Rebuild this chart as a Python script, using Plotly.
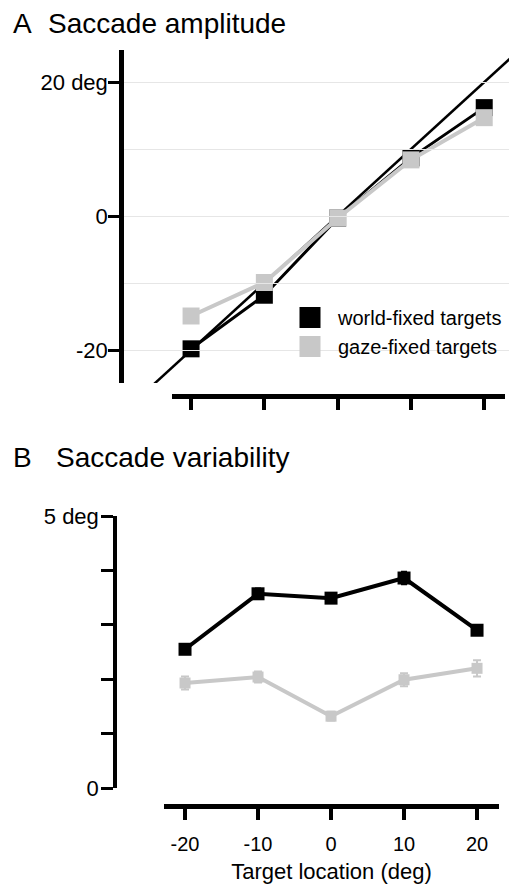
import plotly.graph_objects as go

W, H = 509, 884
def px(x): return x / W
def py(y): return 1 - y / H

# ---- data ----
target_locations = [-20, -10, 0, 10, 20]
identity_x = [-26, 24]
amp_world = [-19.8, -11.8, -0.3, 8.7, 16.2]
amp_gaze = [-14.9, -9.9, -0.3, 8.4, 14.7]
var_world = [2.55, 3.57, 3.49, 3.86, 2.9]
var_world_err = [0.06, 0.1, 0.06, 0.12, 0.06]
var_gaze = [1.93, 2.04, 1.32, 1.99, 2.2]
var_gaze_err = [0.12, 0.1, 0.08, 0.12, 0.15]
series_names = ["world-fixed targets", "gaze-fixed targets"]
amp_tick_vals = [-20, 0, 20]
amp_tick_text = ["-20", "0", "20 deg"]
amp_grid_vals = [-20, -10, 0, 10, 20]
var_tick_vals = [0, 1, 2, 3, 4, 5]
var_tick_text = ["0", "", "", "", "", "5 deg"]
x_tick_text = ["-20", "-10", "0", "10", "20"]

BLACK = "#000000"
GRAY = "#c8c8c8"
FONT = "Liberation Sans, Arial, Helvetica, sans-serif"

fig = go.Figure()

# --- panel A ---
fig.add_trace(go.Scatter(x=identity_x, y=identity_x, mode="lines",
                         line=dict(color=BLACK, width=2.5), xaxis="x", yaxis="y",
                         showlegend=False, hoverinfo="skip"))
fig.add_trace(go.Scatter(x=target_locations, y=amp_world, mode="lines+markers",
                         line=dict(color=BLACK, width=3),
                         marker=dict(symbol="square", size=17, color=BLACK),
                         xaxis="x", yaxis="y", showlegend=False))
fig.add_trace(go.Scatter(x=target_locations, y=amp_gaze, mode="lines+markers",
                         line=dict(color=GRAY, width=4),
                         marker=dict(symbol="square", size=17, color=GRAY),
                         xaxis="x", yaxis="y", showlegend=False))
# dummy trace to display the detached x axis of panel A
fig.add_trace(go.Scatter(x=[None], y=[None], xaxis="x3", yaxis="y",
                         showlegend=False, hoverinfo="skip"))
# legend entries
for name, col in zip(series_names, [BLACK, GRAY]):
    fig.add_trace(go.Scatter(x=[None], y=[None], mode="markers", name=name,
                             marker=dict(symbol="square", size=16, color=col,
                                         line=dict(color=col, width=5)),
                             xaxis="x", yaxis="y"))

# --- panel B ---
fig.add_trace(go.Scatter(x=target_locations, y=var_world, mode="lines+markers",
                         line=dict(color=BLACK, width=4),
                         marker=dict(symbol="square", size=13, color=BLACK),
                         error_y=dict(type="data", array=var_world_err, color=BLACK,
                                      thickness=1.5, width=3),
                         xaxis="x2", yaxis="y2", showlegend=False))
fig.add_trace(go.Scatter(x=target_locations, y=var_gaze, mode="lines+markers",
                         line=dict(color=GRAY, width=4),
                         marker=dict(symbol="square", size=11, color=GRAY),
                         error_y=dict(type="data", array=var_gaze_err, color=GRAY,
                                      thickness=2, width=4),
                         xaxis="x2", yaxis="y2", showlegend=False))

ytickfont = dict(family=FONT, size=22, color=BLACK)
xtickfont = dict(family=FONT, size=20, color=BLACK)

fig.update_layout(
    template="none",
    width=W, height=H, autosize=False,
    margin=dict(l=0, r=0, t=0, b=0, pad=0),
    paper_bgcolor="white", plot_bgcolor="rgba(0,0,0,0)",
    font=dict(family=FONT, color=BLACK),
    xaxis=dict(domain=[px(124), 1.0], range=[-29.15, 23.38], visible=False,
               anchor="y", automargin=False),
    yaxis=dict(domain=[py(383), py(50)], range=[-24.9, 24.8], anchor="x",
               automargin=False,
               showline=True, linewidth=4.5, linecolor=BLACK,
               ticks="outside", ticklen=11, tickwidth=3, tickcolor=BLACK,
               tickvals=amp_tick_vals, ticktext=amp_tick_text, tickfont=ytickfont,
               ticklabelstandoff=-4,
               showgrid=True, gridcolor="#e6e6e6", gridwidth=1, zeroline=False,
               minor=dict(tickvals=amp_grid_vals, showgrid=True,
                          gridcolor="#e6e6e6", gridwidth=1, ticks="")),
    xaxis3=dict(domain=[px(172), px(505)], range=[-22.6, 22.87], anchor="free",
                position=py(396), automargin=False,
                showline=True, linewidth=5, linecolor=BLACK,
                ticks="outside", ticklen=11, tickwidth=4, tickcolor=BLACK,
                tickvals=target_locations, showticklabels=False, showgrid=False,
                zeroline=False),
    xaxis2=dict(domain=[px(164), px(499)], range=[-22.88, 23.01], anchor="free",
                position=py(806), automargin=False,
                showline=True, linewidth=5, linecolor=BLACK,
                ticks="outside", ticklen=11, tickwidth=4, tickcolor=BLACK,
                tickvals=target_locations, ticktext=x_tick_text, tickfont=xtickfont,
                ticklabelstandoff=7,
                showgrid=False, zeroline=False,
                title=dict(text="Target location (deg)",
                           font=dict(family=FONT, size=22, color=BLACK), standoff=10)),
    yaxis2=dict(domain=[py(788), py(516)], range=[0, 5], anchor="free",
                position=px(115), automargin=False,
                showline=True, linewidth=3.5, linecolor=BLACK,
                ticks="outside", ticklen=12, tickwidth=3, tickcolor=BLACK,
                tickvals=var_tick_vals, ticktext=var_tick_text, tickfont=ytickfont,
                ticklabelstandoff=-2,
                showgrid=False, zeroline=False),
    legend=dict(x=px(282), y=py(298), xanchor="left", yanchor="top",
                font=dict(family=FONT, size=20, color=BLACK),
                bgcolor="rgba(0,0,0,0)", itemwidth=46, itemsizing="trace"),
    annotations=[
        dict(text="A", x=px(11), y=py(23), xref="paper", yref="paper",
             xanchor="left", yanchor="middle", showarrow=False,
             font=dict(family=FONT, size=28, color=BLACK)),
        dict(text="Saccade amplitude", x=px(46), y=py(23), xref="paper", yref="paper",
             xanchor="left", yanchor="middle", showarrow=False,
             font=dict(family=FONT, size=28, color=BLACK)),
        dict(text="B", x=px(11), y=py(457), xref="paper", yref="paper",
             xanchor="left", yanchor="middle", showarrow=False,
             font=dict(family=FONT, size=28, color=BLACK)),
        dict(text="Saccade variability", x=px(54), y=py(457), xref="paper", yref="paper",
             xanchor="left", yanchor="middle", showarrow=False,
             font=dict(family=FONT, size=28, color=BLACK)),
    ],
)

fig.write_html("out.html")
